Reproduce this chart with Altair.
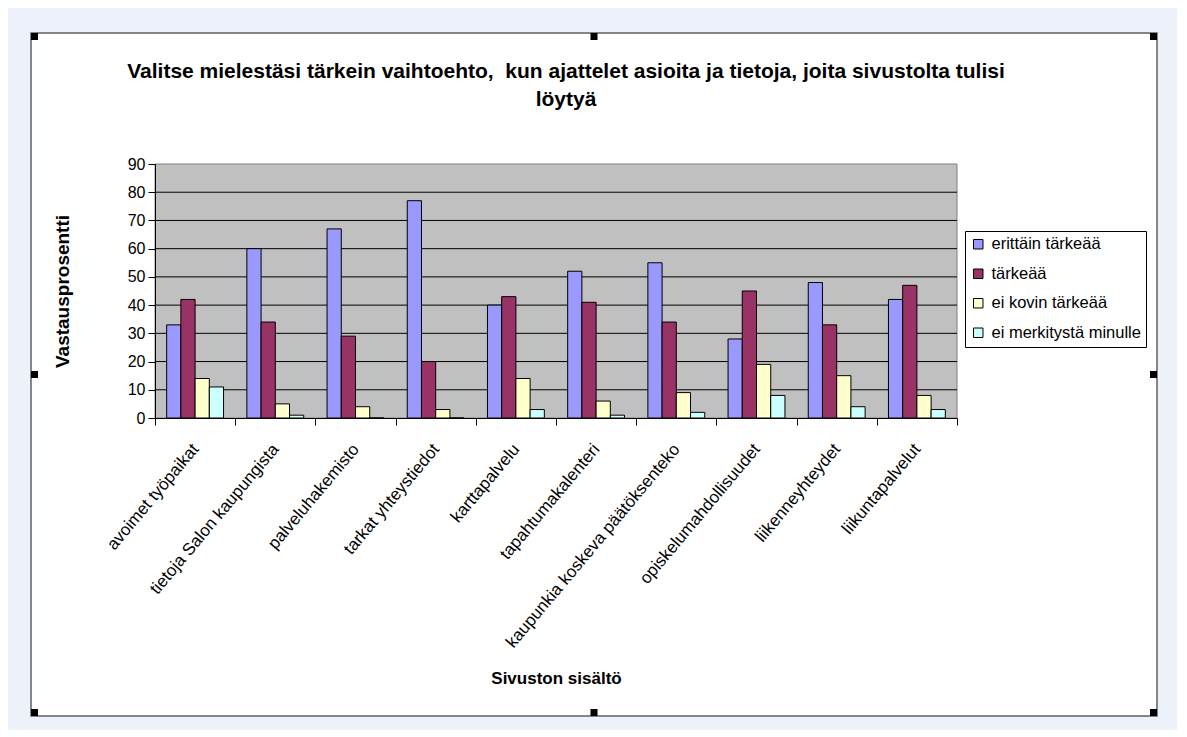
import altair as alt
import pandas as pd

categories = [
    "avoimet työpaikat",
    "tietoja Salon kaupungista",
    "palveluhakemisto",
    "tarkat yhteystiedot",
    "karttapalvelu",
    "tapahtumakalenteri",
    "kaupunkia koskeva päätöksenteko",
    "opiskelumahdollisuudet",
    "liikenneyhteydet",
    "liikuntapalvelut",
]
series_names = ["erittäin tärkeää", "tärkeää", "ei kovin tärkeää", "ei merkitystä minulle"]
erittain_tarkeaa = [33, 60, 67, 77, 40, 52, 55, 28, 48, 42]
tarkeaa = [42, 34, 29, 20, 43, 41, 34, 45, 33, 47]
ei_kovin_tarkeaa = [14, 5, 4, 3, 14, 6, 9, 19, 15, 8]
ei_merkitysta = [11, 1, 0, 0, 3, 1, 2, 8, 4, 3]
y_ticks = [0, 10, 20, 30, 40, 50, 60, 70, 80, 90]
colors = ["#9999FF", "#993366", "#FFFFCC", "#CCFFFF"]

title_lines = [
    "Valitse mielestäsi tärkein vaihtoehto,\u00a0 kun ajattelet asioita ja tietoja, joita sivustolta tulisi",
    "löytyä",
]
y_title = "Vastausprosentti"
x_title = "Sivuston sisältö"

FONT = "Liberation Sans"
W, H = 802, 254

rows = []
for s, vals in zip(series_names, [erittain_tarkeaa, tarkeaa, ei_kovin_tarkeaa, ei_merkitysta]):
    for c, v in zip(categories, vals):
        rows.append({"kategoria": c, "sarja": s, "value": v})
df = pd.DataFrame(rows)
grid_df = pd.DataFrame({"value": y_ticks[1:-1]})
one = pd.DataFrame([{"k": 0}])

yscale = alt.Scale(domain=[y_ticks[0], y_ticks[-1]], nice=False)
y_axis = alt.Axis(
    title=y_title,
    values=y_ticks,
    tickCount=len(y_ticks),
    grid=False,
    tickSize=7,
    labelPadding=3,
    labelFontSize=16,
    labelOverlap=False,
    titleX=-93,
    titleY=H / 2,
    titleBaseline="middle",
    titleAngle=-90,
    titleFontSize=19,
    domainColor="black",
    tickColor="black",
    zindex=1,
)

# white framed chart area (decoration)
frame = alt.Chart(one).mark_rect(fill="white", stroke="#606060", strokeWidth=1.5).encode(
    x=alt.value(-124), x2=alt.value(1002), y=alt.value(-131), y2=alt.value(552)
)
plot_bg = alt.Chart(one).mark_rect(fill="#C0C0C0", stroke="#808080", strokeWidth=1).encode(
    x=alt.value(0), x2=alt.value(W), y=alt.value(0), y2=alt.value(H)
)
grid = alt.Chart(grid_df).mark_rule(color="black", strokeWidth=1).encode(
    y=alt.Y("value:Q", scale=yscale, axis=y_axis)
)

bars = alt.Chart(df).mark_bar(stroke="black", strokeWidth=1).encode(
    x=alt.X(
        "kategoria:N",
        sort=categories,
        scale=alt.Scale(paddingInner=0, paddingOuter=0),
        axis=alt.Axis(
            title=x_title,
            labelAngle=-50,
            labelAlign="right",
            labelBaseline="middle",
            labelPadding=21,
            labelOverlap=False,
            labelLimit=400,
            labelFontSize=17,
            tickBand="extent",
            tickSize=7,
            titleY=260,
            titleBaseline="middle",
            domainColor="black",
            tickColor="black",
            zindex=1,
        ),
    ),
    xOffset=alt.XOffset("sarja:N", sort=series_names, scale=alt.Scale(paddingOuter=0.82, paddingInner=0)),
    y=alt.Y("value:Q", scale=yscale, axis=y_axis),
    color=alt.Color(
        "sarja:N",
        sort=series_names,
        scale=alt.Scale(domain=series_names, range=colors),
        legend=alt.Legend(
            title=None,
            orient="none",
            legendX=810,
            legendY=67,
            symbolType="square",
            symbolSize=90,
            symbolStrokeColor="black",
            symbolStrokeWidth=1,
            labelFontSize=16.5,
            labelFont=FONT,
            labelColor="black",
            rowPadding=12.5,
            labelOffset=5,
            padding=5,
            strokeColor="black",
            fillColor="white",
            labelLimit=300,
        ),
    ),
)

handle_pos = []
for hx in [-120.5, 439, 998.5]:
    for hy in [-127.5, 210.5, 548.5]:
        if not (hx == 439 and hy == 210.5):
            handle_pos.append((hx, hy))
handles = [
    alt.Chart(one).mark_square(size=49, color="black", opacity=1).encode(x=alt.value(hx), y=alt.value(hy))
    for hx, hy in handle_pos
]

chart = alt.layer(frame, plot_bg, grid, bars, *handles).properties(
    width=W,
    height=H,
    autosize=alt.AutoSizeParams(type="none"),
    padding={"left": 147, "top": 156, "right": 220, "bottom": 312},
    background="#EDF1F9",
    title=alt.TitleParams(
        text=title_lines,
        font=FONT,
        fontSize=21,
        fontWeight="bold",
        color="black",
        anchor="middle",
        dx=10,
        dy=78,
        offset=0,
        lineHeight=28,
    ),
).configure_view(stroke=None).configure_axis(
    labelFont=FONT,
    titleFont=FONT,
    labelColor="black",
    titleColor="black",
    titleFontSize=17,
    titleFontWeight="bold",
    domainWidth=1,
)

chart.save("out.html", embed_options={"renderer": "svg", "actions": False})
